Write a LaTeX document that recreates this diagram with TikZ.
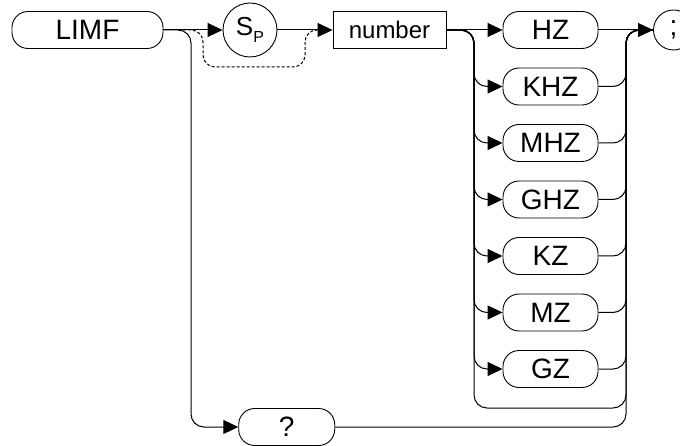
\documentclass[tikz,border=0pt]{standalone}
\usepackage{fontspec}
\setmainfont{Liberation Sans}
\usetikzlibrary{arrows.meta,shapes,positioning,calc}

\tikzset{
  kwbox/.style={draw,rounded corners=16pt,minimum height=37pt,inner sep=0pt,
                line width=0.9pt,font=\fontsize{28}{32}\selectfont},
  numbox/.style={draw,minimum height=37pt,minimum width=113pt,inner sep=0pt,
                 line width=0.9pt,font=\fontsize{24}{28}\selectfont},
  ring/.style={draw,circle,inner sep=0pt,line width=0.9pt,
               font=\fontsize{28}{32}\selectfont},
  flow/.style={line width=1pt},
  feed/.style={flow,-{Triangle[length=15pt,width=14pt]}},
}

\begin{document}
\begin{tikzpicture}[x=1pt,y=-1pt]
    \useasboundingbox (0,0) rectangle (680,446);

    % ── KEYWORD + SEPARATOR ───────────────────────────────
    \node[kwbox,minimum width=151pt] (limf) at (87.5,30){LIMF};
    \node[ring,minimum size=54pt] (sp) at (250,30)
      {\fontsize{26}{30}\selectfont S\raisebox{-0.45ex}{\fontsize{16}{18}\selectfont P}};
    \node[numbox] (num) at (389.5,30){number};
    \node[ring,minimum size=40pt] (semi) at (673.5,30){;};
    \node[kwbox,minimum width=96pt] (query) at (286.7,427){?};

    % ── UNITS ─────────────────────────────────────────────
    \foreach \unit [count=\i from 0] in {HZ,KHZ,MHZ,GHZ,KZ,MZ,GZ}{
      \node[kwbox,minimum width=95pt] (u\i) at (550.5,30+56.5*\i){\unit};
    }

    % junctions
    \coordinate (dashA) at (183,30);
    \coordinate (dashL) at (203,67);
    \coordinate (dashR) at (305,67);
    \coordinate (dashB) at (320,30);
    \coordinate (dropL) at (191,30);
    \coordinate (trunkL) at (474,30);
    \coordinate (trunkR) at (626,30);
    \coordinate (skip) at (550,408);

    % main row
    \draw[feed] (limf) -- (sp);
    \draw[feed] (sp) -- (num);
    \draw[feed] (num) -- (u0);
    \draw[feed] (u0) -- (semi);

    % optional separator
    \draw[flow,dash pattern=on 3pt off 2pt,rounded corners=12pt]
      (dashA) -| (dashL) -- (dashR) |- (dashB);

    % query branch
    \draw[feed,rounded corners=13pt] (limf.east) -| (dropL |- query.west) -- (query.west);
    \draw[flow,rounded corners=13pt] (query.east) -| (trunkR) -- (semi.west);

    % unit branches
    \foreach \i in {1,...,6}{
      \draw[feed,rounded corners=13pt] (num.east) -| (trunkL |- u\i.west) -- (u\i.west);
      \draw[flow,rounded corners=13pt] (u\i.east) -| (trunkR) -- (semi.west);
    }

    % no unit
    \draw[flow,rounded corners=13pt] (num.east) -| (trunkL |- skip)
      -- (trunkR |- skip) -- (trunkR) -- (semi.west);

  \end{tikzpicture}
\end{document}
